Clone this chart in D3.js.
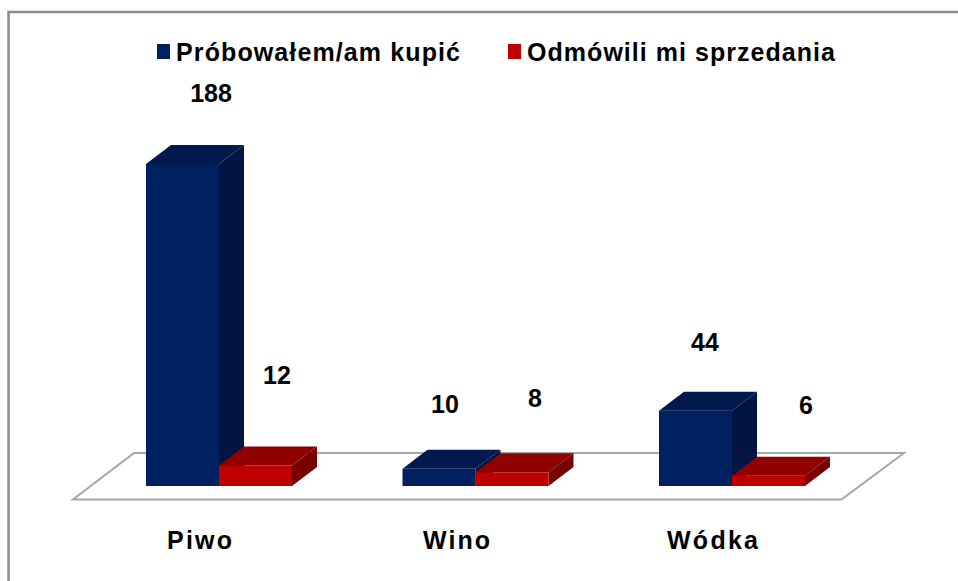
<!DOCTYPE html>
<html><head><meta charset="utf-8">
<script src="https://cdnjs.cloudflare.com/ajax/libs/d3/7.8.5/d3.min.js"></script>
<style>html,body{margin:0;padding:0;background:#fff}svg{display:block}text{font-family:"Liberation Sans",Arial,sans-serif;font-weight:bold;fill:#000}</style>
</head><body><svg id="c" width="958" height="581"></svg>
<script>
const categories = ["Piwo","Wino","Wódka"];
const seriesNames = ["Próbowałem/am kupić","Odmówili mi sprzedania"];
const attempted = [188,10,44];
const refused = [12,8,6];
const W=958,H=581;
const svg=d3.select("#c");
const front=["#00205f","#bf0000"],top_=["#001a4e","#900000"],side=["#001544","#780000"];
const baseY=486, dx=25, dy=-19;
const x0=d3.scaleBand().domain(categories).range([109.5,109.5+256.5*3]).paddingInner(0).paddingOuter(0);
const y=d3.scaleLinear().domain([0,188]).range([baseY,164]);
const bw=73;
svg.append("rect").attr("x",8.5).attr("y",12).attr("width",W+20).attr("height",H+20).attr("fill","#fff").attr("stroke","#8c8c8c").attr("stroke-width",2.5);
const line=d3.line();
svg.append("path").attr("d",line([[73,499.5],[841.5,499.5],[904,453],[134,453]])+"Z").attr("fill","#fff").attr("stroke","#a6a6a6").attr("stroke-width",2);
const bars=[];
categories.forEach((c,i)=>{[attempted[i],refused[i]].forEach((v,s)=>bars.push({c,s,v}));});
bars.forEach(b=>{
  const xL=x0(b.c)+36.5+b.s*bw, xR=xL+bw, yT=y(b.v), yB=baseY;
  const g=svg.append("g");
  g.append("path").attr("d",line([[xR,yT],[xR+dx,yT+dy],[xR+dx,yB+dy],[xR,yB]])+"Z").attr("fill",side[b.s]);
  g.append("path").attr("d",line([[xL,yT],[xL+dx,yT+dy],[xR+dx,yT+dy],[xR,yT]])+"Z").attr("fill",top_[b.s]);
  g.append("rect").attr("x",xL).attr("y",yT).attr("width",bw).attr("height",yB-yT).attr("fill",front[b.s]);
});
const labelPos=[[[211,102],[277,384]],[[445,413],[535,407]],[[705,351],[806,414]]];
categories.forEach((c,i)=>{[attempted[i],refused[i]].forEach((v,s)=>{
  svg.append("text").attr("x",labelPos[i][s][0]).attr("y",labelPos[i][s][1]).attr("text-anchor","middle").attr("font-size",25).text(v);
});});
const catLabelX=[199.5,456.5,712.5], catLabelLen=[65,67,91];
categories.forEach((c,i)=>{
  svg.append("text").attr("x",catLabelX[i]).attr("y",549).attr("text-anchor","middle").attr("font-size",25)
    .attr("textLength",catLabelLen[i]).attr("lengthAdjust","spacing").text(c);
});
const legendSwatchX=[157,508], legendTextX=[176,527], legendTextLen=[284,308];
seriesNames.forEach((n,i)=>{
  svg.append("rect").attr("x",legendSwatchX[i]).attr("y",44).attr("width",13).attr("height",15).attr("fill",front[i]);
  svg.append("text").attr("x",legendTextX[i]).attr("y",61).attr("font-size",25)
    .attr("textLength",legendTextLen[i]).attr("lengthAdjust","spacing").text(n);
});
</script></body></html>
